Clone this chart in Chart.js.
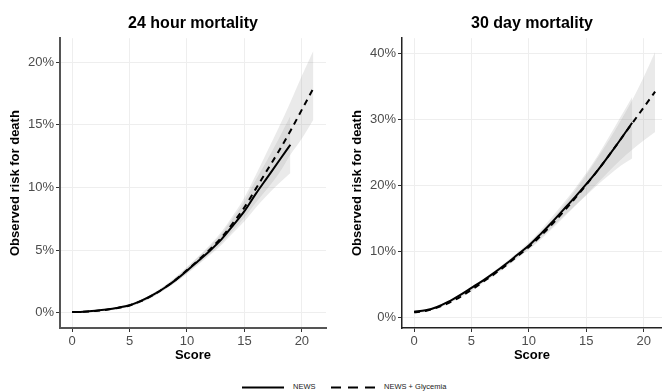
<!DOCTYPE html>
<html>
<head>
<meta charset="utf-8">
<script src="https://cdn.jsdelivr.net/npm/chart.js@4"></script>
<style>
  body { margin: 0; background: #fff; font-family: "Liberation Sans", Arial, sans-serif; }
  #wrap { position: relative; width: 662px; height: 391px; overflow: hidden; }
  #c1 { position: absolute; left: 0; top: 0; }
  #c2 { position: absolute; left: 342px; top: 0; }
  .leg { position: absolute; top: 382px; left: 0; width: 662px; height: 10px; font-size: 7.5px; color: #222; }
  .leg svg { position: absolute; top: 0; }
  .leg .tx { position: absolute; top: 0; line-height: 10px; white-space: nowrap; }
</style>
</head>
<body>
<div id="wrap">
  <canvas id="c1" width="331" height="370"></canvas>
  <canvas id="c2" width="320" height="370"></canvas>
  <div class="leg">
    <svg style="left:242px" width="42" height="10"><line x1="0" y1="5.5" x2="42" y2="5.5" stroke="#000" stroke-width="2"/></svg>
    <div class="tx" style="left:293px">NEWS</div>
    <svg style="left:331px" width="44" height="10"><line x1="0" y1="5.5" x2="44" y2="5.5" stroke="#000" stroke-width="2" stroke-dasharray="10 7"/></svg>
    <div class="tx" style="left:384px">NEWS + Glycemia</div>
  </div>
</div>
<script>
// scores
const scoresNews = [0,1,2,3,4,5,6,7,8,9,10,11,12,13,14,15,16,17,18,19];
const scoresGly = [0,1,2,3,4,5,6,7,8,9,10,11,12,13,14,15,16,17,18,19,20,21];
const xTicks = [0,5,10,15,20];

// 24 hour mortality (%)
const news24 = [0.05,0.08,0.15,0.25,0.4,0.6,0.95,1.4,1.95,2.6,3.35,4.15,4.95,5.85,6.95,8.1,9.5,10.8,12.1,13.4];
const news24Lo = [0.02,0.05,0.11,0.2,0.33,0.5,0.83,1.26,1.79,2.4,3.1,3.85,4.6,5.4,6.35,7.3,8.4,9.4,10.3,11.15];
const news24Hi = [0.08,0.11,0.19,0.3,0.47,0.7,1.07,1.54,2.11,2.8,3.6,4.45,5.3,6.3,7.55,8.9,10.6,12.2,13.9,15.7];
const gly24 = [0.05,0.08,0.14,0.24,0.38,0.58,0.92,1.38,1.95,2.62,3.4,4.2,5.05,6.0,7.15,8.4,9.9,11.4,12.9,14.5,16.2,17.9];
const gly24Lo = [0.02,0.05,0.1,0.19,0.31,0.48,0.8,1.24,1.79,2.42,3.15,3.9,4.7,5.55,6.55,7.6,8.8,9.9,11.1,12.6,13.9,15.4];
const gly24Hi = [0.08,0.11,0.18,0.29,0.45,0.68,1.04,1.52,2.11,2.82,3.65,4.5,5.4,6.45,7.75,9.2,11.0,12.9,14.8,16.8,18.9,20.9];
const yTicks24 = [0,5,10,15,20];

// 30 day mortality (%)
const news30 = [0.9,1.1,1.6,2.4,3.4,4.5,5.6,6.8,8.1,9.5,10.9,12.6,14.4,16.3,18.2,20.2,22.3,24.6,27.0,29.5];
const news30Lo = [0.7,0.95,1.45,2.25,3.25,4.3,5.4,6.55,7.8,9.15,10.4,12.0,13.6,15.3,16.9,18.5,20.1,21.6,23.0,24.1];
const news30Hi = [1.1,1.25,1.75,2.55,3.55,4.7,5.8,7.05,8.4,9.85,11.4,13.2,15.2,17.3,19.5,21.9,24.5,27.4,30.4,33.4];
const gly30 = [0.8,1.0,1.5,2.2,3.1,4.2,5.4,6.6,7.9,9.3,10.7,12.3,14.1,16.0,18.0,20.1,22.3,24.6,27.0,29.4,31.8,34.2];
const gly30Lo = [0.6,0.85,1.35,2.05,2.95,4.0,5.2,6.35,7.6,8.95,10.25,11.75,13.4,15.1,16.85,18.6,20.4,22.2,23.9,25.4,26.8,28.1];
const gly30Hi = [1.0,1.15,1.65,2.35,3.25,4.4,5.6,6.85,8.2,9.65,11.15,12.85,14.8,16.9,19.15,21.6,24.2,26.9,29.8,32.9,36.4,40.2];
const yTicks30 = [0,10,20,30,40];

const FONT = "'Liberation Sans', Arial, sans-serif";
const bandColor = "rgba(150,150,150,0.2)";

function pts(xs, ys) {
  return xs.map((x, i) => ({ x: x, y: ys[i] }));
}

function band(xs, lo, hi) {
  return [
    { data: pts(xs, lo), borderWidth: 0, pointRadius: 0, fill: false, order: 5, cubicInterpolationMode: "monotone" },
    { data: pts(xs, hi), borderWidth: 0, pointRadius: 0, fill: "-1", backgroundColor: bandColor, order: 5, cubicInterpolationMode: "monotone" },
  ];
}

function makeChart(id, title, d, yMin, yMax, yTicks, xMax, axisColor, axisWidth) {
  const datasets = [
    ...band(scoresNews, d.newsLo, d.newsHi),
    ...band(scoresGly, d.glyLo, d.glyHi),
    {
      label: "NEWS",
      data: pts(scoresNews, d.news),
      borderColor: "#000",
      borderWidth: 2,
      pointRadius: 0,
      fill: false,
      order: 0,
      cubicInterpolationMode: "monotone",
    },
    {
      label: "NEWS + Glycemia",
      data: pts(scoresGly, d.gly),
      borderColor: "#000",
      borderWidth: 2,
      borderDash: [6, 5],
      pointRadius: 0,
      fill: false,
      order: 1,
      cubicInterpolationMode: "monotone",
    },
  ];

  return new Chart(document.getElementById(id), {
    type: "line",
    data: { datasets },
    options: {
      responsive: false,
      animation: false,
      devicePixelRatio: 1,
      layout: { padding: { right: id === "c1" ? 5 : 0 } },
      plugins: {
        legend: { display: false },
        tooltip: { enabled: false },
        title: {
          display: true,
          text: title,
          fullSize: false,
          color: "#000",
          font: { family: FONT, size: 16, weight: "bold" },
          padding: { top: 14, bottom: 5 },
        },
      },
      scales: {
        x: {
          type: "linear",
          min: -1.05,
          max: xMax,
          afterBuildTicks: (s) => { s.ticks = xTicks.map((v) => ({ value: v })); },
          afterFit: (s) => { s.height = 42; },
          grid: { color: "#eeeeee", lineWidth: 1, drawTicks: true, tickLength: 4, tickColor: "#333" },
          border: { display: true, color: axisColor, width: axisWidth },
          ticks: { color: "#4d4d4d", padding: 2, font: { family: FONT, size: 13 } },
          title: {
            display: true,
            text: "Score",
            color: "#000",
            font: { family: FONT, size: 13, weight: "bold" },
            padding: { top: 0, bottom: 6.5 },
          },
        },
        y: {
          type: "linear",
          min: yMin,
          max: yMax,
          afterBuildTicks: (s) => { s.ticks = yTicks.map((v) => ({ value: v })); },
          afterFit: (s) => { s.width = 60; },
          grid: { color: "#eeeeee", lineWidth: 1, drawTicks: true, tickLength: 4, tickColor: "#333" },
          border: { display: true, color: axisColor, width: axisWidth },
          ticks: {
            color: "#4d4d4d",
            padding: 2,
            font: { family: FONT, size: 13 },
            callback: (v) => v + "%",
          },
          title: {
            display: true,
            text: "Observed risk for death",
            color: "#000",
            font: { family: FONT, size: 13, weight: "bold" },
            padding: { top: 8, bottom: 0 },
          },
        },
      },
    },
  });
}

makeChart("c1", "24 hour mortality",
  { news: news24, newsLo: news24Lo, newsHi: news24Hi, gly: gly24, glyLo: gly24Lo, glyHi: gly24Hi },
  -1.22, 21.9, yTicks24, 22.1, "#555", 2);

makeChart("c2", "30 day mortality",
  { news: news30, newsLo: news30Lo, newsHi: news30Hi, gly: gly30, glyLo: gly30Lo, glyHi: gly30Hi },
  -1.58, 42.3, yTicks30, 21.6, "#222", 1.5);
</script>
</body>
</html>
